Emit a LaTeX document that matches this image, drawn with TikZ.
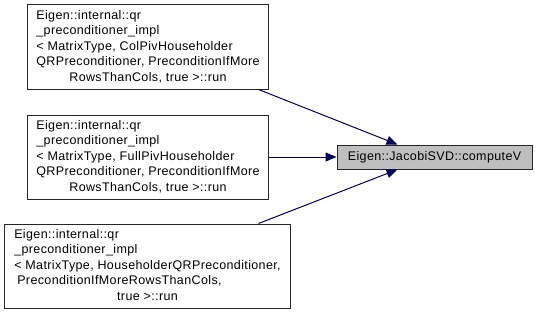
\documentclass[tikz,border=0pt]{standalone}
\usepackage{fontspec}
\setmainfont[LetterSpace=3]{Liberation Sans}
\usetikzlibrary{arrows.meta,calc}
\begin{document}
\begin{tikzpicture}[x=1bp,y=1bp,
  fn/.style={draw=black!85, line width=1bp, fill=white, inner sep=0pt,
    font=\fontsize{12.5bp}{15.5bp}\selectfont},
  focus/.style={fn, fill=black!25},
  call/.style={draw=blue!35!black, line width=1bp,
    -{Triangle[length=11bp,width=9bp]}}]
\useasboundingbox[fill=white] (0,0) rectangle (537,315);

\node[fn, minimum width=240bp, minimum height=84bp] (n1) at (148,268)
  {\begin{tabular}{@{}l@{}}Eigen::internal::qr\\ \_preconditioner\_impl\\
   < MatrixType, ColPivHouseholder\\ QRPreconditioner, PreconditionIfMore\\
   \multicolumn{1}{@{}c@{}}{RowsThanCols, true >::run}\end{tabular}};

\node[fn, minimum width=240bp, minimum height=84bp] (n2) at (148,158)
  {\begin{tabular}{@{}l@{}}Eigen::internal::qr\\ \_preconditioner\_impl\\
   < MatrixType, FullPivHouseholder\\ QRPreconditioner, PreconditionIfMore\\
   \multicolumn{1}{@{}c@{}}{RowsThanCols, true >::run}\end{tabular}};

\node[fn, minimum width=285bp, minimum height=84bp] (n3) at (147.5,49)
  {\begin{tabular}{@{}l@{}}Eigen::internal::qr\\ \_preconditioner\_impl\\
   < MatrixType, HouseholderQRPreconditioner,\\ \hspace{3bp}PreconditionIfMoreRowsThanCols,\\
   \multicolumn{1}{@{}c@{}}{true >::run}\end{tabular}};

\node[focus, minimum width=195bp, minimum height=24bp] (t) at (434.5,158)
  {Eigen::JacobiSVD::computeV};

\draw[call] ($(n1.south east)+(-10,0)$) -- ($(t.north west)+(61,0)$);
\draw[call] (n2.east) -- (t.west);
\draw[call] ($(n3.north east)+(-32,0)$) -- ($(t.south west)+(61,0)$);
\end{tikzpicture}
\end{document}
